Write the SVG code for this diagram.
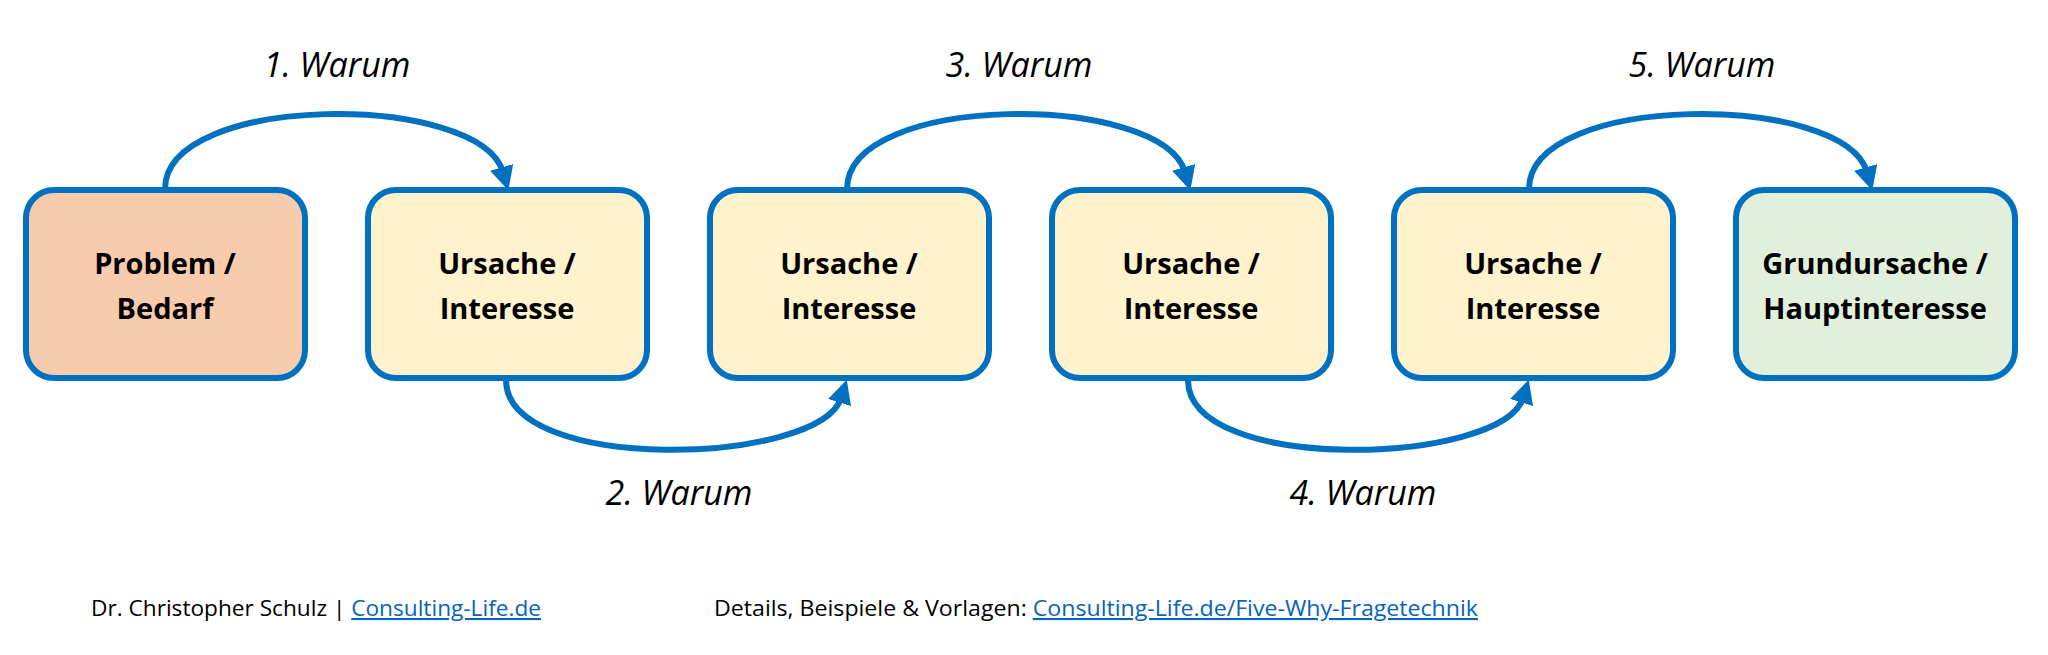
<svg xmlns="http://www.w3.org/2000/svg" width="2048" height="655" viewBox="0 0 2048 655">
<style>
.n{stroke:#0070C0;stroke-width:6}
.t{font-family:"Open Sans","Liberation Sans",sans-serif;font-weight:bold;font-size:29px;text-anchor:middle;fill:#000}
.w{font-family:"Open Sans","Liberation Sans",sans-serif;font-style:italic;font-size:34px;text-anchor:middle;fill:#000}
.c{fill:none;stroke:#0070C0;stroke-width:6}
.f{font-family:"Open Sans","Liberation Sans",sans-serif;font-size:21px;fill:#000}
.l{fill:#0563C1;text-decoration:underline}
</style>
<defs><marker id="a" viewBox="0 0 10 10" refX="2" refY="5" markerWidth="4" markerHeight="4" orient="auto" markerUnits="strokeWidth"><path d="M0,0 L10,5 L0,10 z" fill="#0070C0"/></marker></defs>
<g id="connectors">
<path class="c" d="M165 189 C165 92,480 92,503 172" marker-end="url(#a)"/>
<path class="c" d="M847 189 C847 92,1162 92,1185 172" marker-end="url(#a)"/>
<path class="c" d="M1529 189 C1529 92,1844 92,1867 172" marker-end="url(#a)"/>
<path class="c" d="M506 380 C506 475,820 465,841 398" marker-end="url(#a)"/>
<path class="c" d="M1188 380 C1188 475,1502 465,1523 398" marker-end="url(#a)"/>
</g>
<g id="n1"><rect class="n" x="26" y="190" width="279" height="188" rx="28" fill="#F8CBAD"/><text class="t" x="165" y="274">Problem /</text><text class="t" x="165" y="319">Bedarf</text></g>
<g id="n2"><rect class="n" x="368" y="190" width="279" height="188" rx="28" fill="#FFF2CC"/><text class="t" x="507" y="274">Ursache /</text><text class="t" x="507" y="319">Interesse</text></g>
<g id="n3"><rect class="n" x="710" y="190" width="279" height="188" rx="28" fill="#FFF2CC"/><text class="t" x="849" y="274">Ursache /</text><text class="t" x="849" y="319">Interesse</text></g>
<g id="n4"><rect class="n" x="1052" y="190" width="279" height="188" rx="28" fill="#FFF2CC"/><text class="t" x="1191" y="274">Ursache /</text><text class="t" x="1191" y="319">Interesse</text></g>
<g id="n5"><rect class="n" x="1394" y="190" width="279" height="188" rx="28" fill="#FFF2CC"/><text class="t" x="1533" y="274">Ursache /</text><text class="t" x="1533" y="319">Interesse</text></g>
<g id="n6"><rect class="n" x="1736" y="190" width="279" height="188" rx="28" fill="#E2EFDA"/><text class="t" x="1875" y="274">Grundursache /</text><text class="t" x="1875" y="319">Hauptinteresse</text></g>
<g id="labels">
<text class="w" x="337" y="77">1. Warum</text>
<text class="w" x="1019" y="77">3. Warum</text>
<text class="w" x="1702" y="77">5. Warum</text>
<text class="w" x="679" y="505">2. Warum</text>
<text class="w" x="1363" y="505">4. Warum</text>
<text class="f" x="91" y="616" textLength="450" lengthAdjust="spacingAndGlyphs">Dr. Christopher Schulz | <tspan class="l">Consulting-Life.de</tspan></text>
<text class="f" x="714" y="616" textLength="764" lengthAdjust="spacingAndGlyphs">Details, Beispiele &amp; Vorlagen: <tspan class="l">Consulting-Life.de/Five-Why-Fragetechnik</tspan></text>
</g>
</svg>
